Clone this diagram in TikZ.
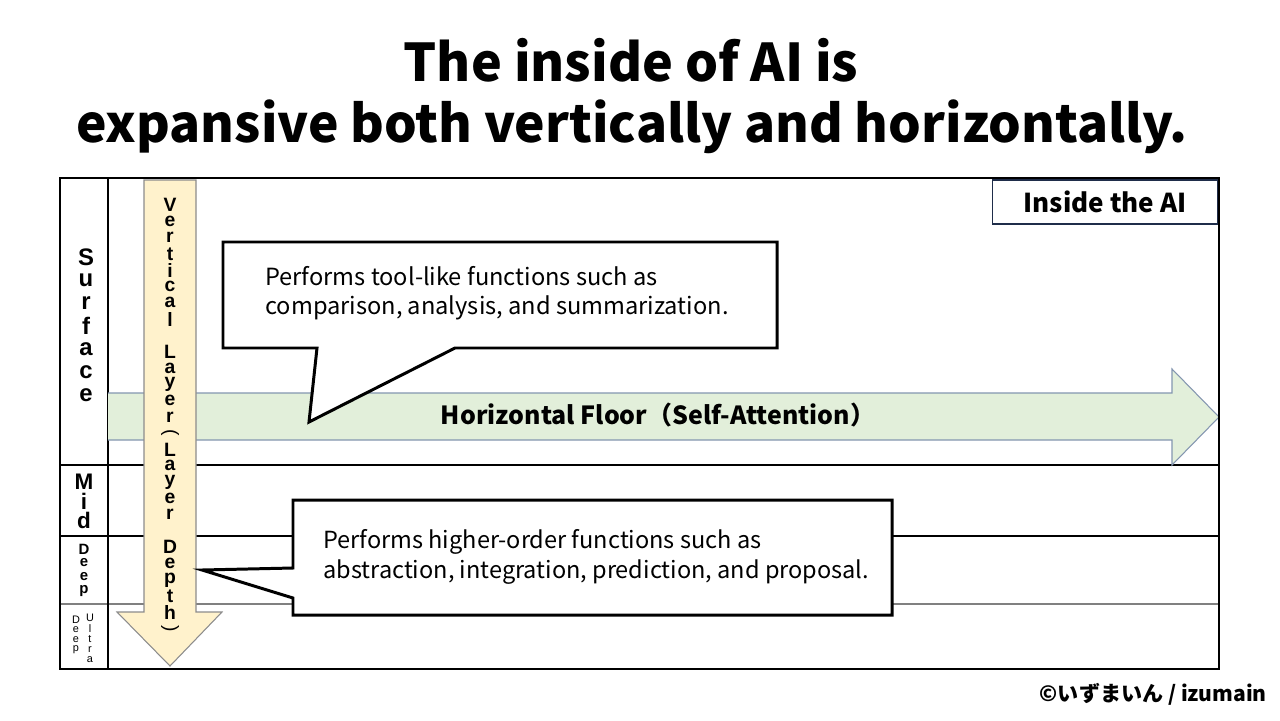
\documentclass[tikz,border=0pt]{standalone}
\usepackage{fontspec}
\setmainfont{Noto Sans CJK JP}
\newfontfamily\arialfont{Liberation Sans}
\usetikzlibrary{arrows.meta}
\definecolor{floorgreen}{HTML}{E2EFDA}
\definecolor{floorline}{HTML}{8496B0}
\definecolor{layeryellow}{HTML}{FFF2CC}
\definecolor{layerline}{HTML}{8C8C8C}
\definecolor{navyline}{HTML}{1F2D4A}
\tikzset{
  frameline/.style  = {black,line width=1.1pt},
  rowline/.style    = {black,line width=0.8pt},
  grayrow/.style    = {gray,line width=1.4pt},
  calloutbox/.style = {draw=black,line width=1.7pt,fill=white,line join=miter},
  notetext/.style   = {align=left,anchor=west,inner sep=0pt},
  stackchar/.style  = {inner sep=0pt,anchor=center}
}
\newcommand{\stackword}[6]{%
  \foreach \ch [count=\k from 0] in {#6}
    \node[stackchar,font=#4] (#5\k) at (#1,#2+#3*\k) {\ch};
}

\begin{document}
\begin{tikzpicture}[x=0.02cm,y=-0.02cm]
  \useasboundingbox (0,0) rectangle (1280,720);
  \fill[white] (0,0) rectangle (1280,720);
  % title
  \node[font=\fontsize{29.6}{36}\selectfont\bfseries] (title1) at (631,60) {The inside of AI is};
  \node[font=\fontsize{29.3}{36}\selectfont\bfseries] (title2) at (632,127) {expansive both vertically and horizontally.};
  % rows
  \draw[rowline] (60,465) -- (1219,465);
  \draw[rowline] (60,536) -- (1219,536);
  \draw[grayrow] (60,604) -- (1219,604);
  \draw[frameline] (108,178) -- (108,669);
  % horizontal floor
  \draw[floorline,fill=floorgreen,line width=0.6pt]
    (108,393) -- (1172,393) -- (1172,369) -- (1219,417) -- (1172,465) -- (1172,440) -- (108,440);
  \node[font=\fontsize{14.2}{16}\selectfont\bfseries] (floor) at (658,415) {Horizontal Floor（Self-Attention）};
  \draw[frameline] (60,178) rectangle (1219,669);
  % vertical layer
  \draw[layerline,fill=layeryellow,line width=0.6pt]
    (144,180) -- (196,180) -- (196,612) -- (222,612) -- (170,666) -- (117,612) -- (144,612) -- cycle;
  \stackword{170}{205}{16.3}{\fontsize{11}{12}\arialfont\bfseries}{vl}
    {V,e,r,t,i,c,a,l,{},L,a,y,e,r,{},L,a,y,e,r,{},D,e,p,t,h,{}}
  \node[stackchar,rotate=-90,font=\fontsize{11}{12}\arialfont] (vlopen) at (vl14) {(};
  \node[stackchar,rotate=-90,font=\fontsize{11}{12}\arialfont] (vlclose) at (vl26) {)};
  % row labels
  \stackword{86}{257}{23}{\fontsize{13.6}{15}\arialfont\bfseries}{sf}{S,u,r,f,a,c,e}
  \stackword{84}{482}{19}{\fontsize{12.8}{15}\arialfont\bfseries}{md}{M,i,d}
  \stackword{84}{549}{14}{\fontsize{8.5}{10}\arialfont\bfseries}{dp}{D,e,e,p}
  \stackword{76}{620}{10}{\fontsize{6.2}{7}\arialfont}{ud}{D,e,e,p}
  \stackword{90}{618}{10.5}{\fontsize{6.2}{7}\arialfont}{ut}{U,l,t,r,a}
  % callouts
  \draw[calloutbox] (223,242) -- (777,242) -- (777,348) -- (455,348) -- (309,422)
    -- (317,348) -- (223,348) -- cycle;
  \node[notetext,font=\fontsize{13.45}{16.4}\selectfont] (tool) at (265,293)
    {Performs tool-like functions such as\\comparison, analysis, and summarization.};
  \draw[calloutbox] (293,500) -- (892,500) -- (892,615) -- (293,615) -- (293,598)
    -- (202,570) -- (293,568) -- cycle;
  \node[notetext,font=\fontsize{13.4}{17}\selectfont] (higher) at (323,557)
    {Performs higher-order functions such as\\abstraction, integration, prediction, and proposal.};
  % label box
  \node[draw=navyline,line width=1pt,fill=white,minimum width=4.5cm,minimum height=0.88cm,
    font=\fontsize{14.8}{16}\selectfont\bfseries] (inside) at (1105,202) {Inside the AI};
  \node[anchor=east,font=\fontsize{12}{13}\selectfont\bfseries] (copy) at (1273,694)
    {©いずまいん / izumain};
\end{tikzpicture}
\end{document}
